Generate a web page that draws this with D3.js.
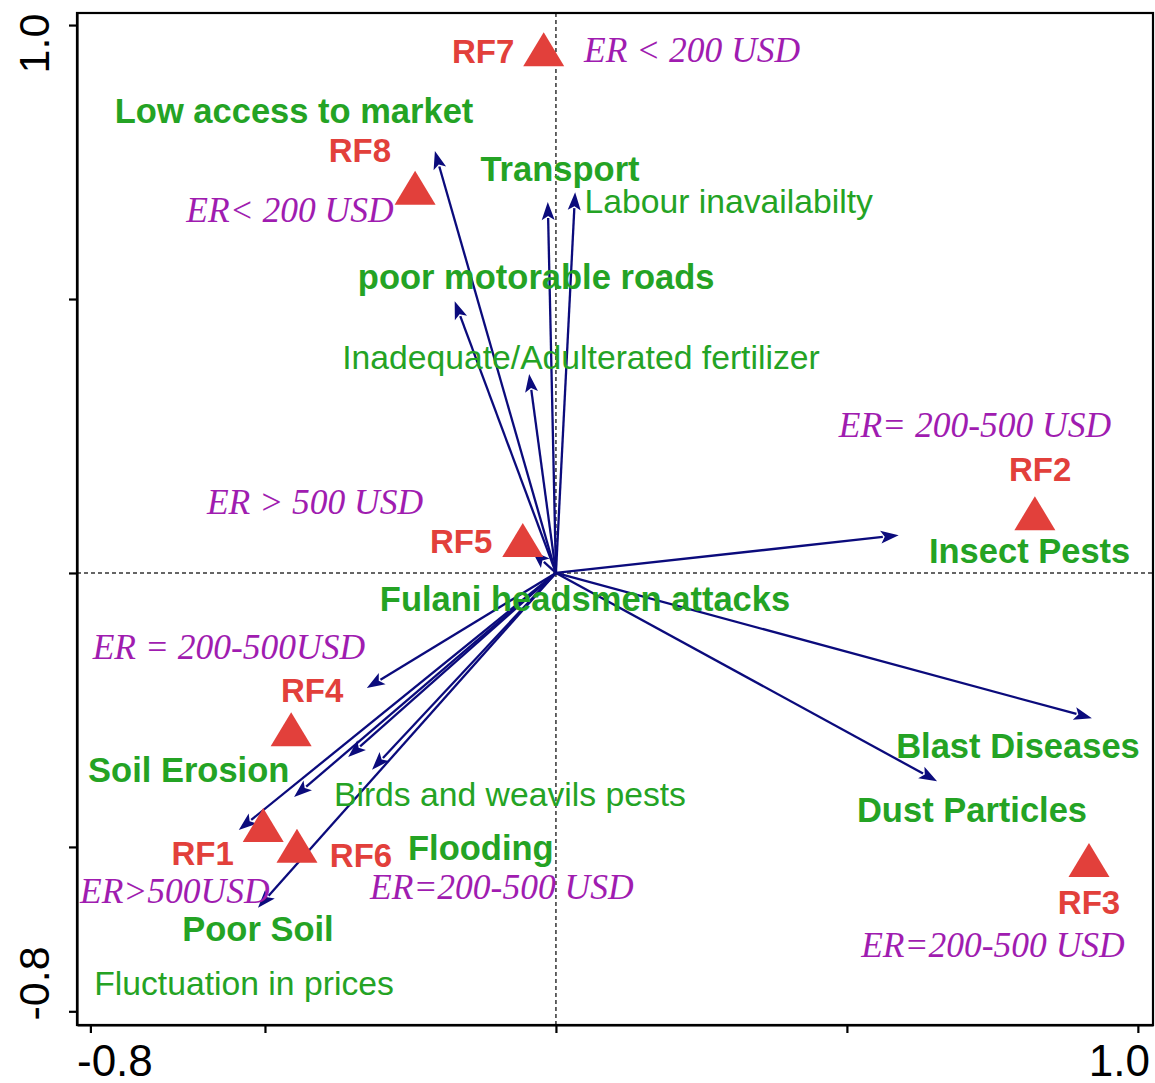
<!DOCTYPE html>
<html>
<head>
<meta charset="utf-8">
<script src="https://cdn.jsdelivr.net/npm/d3@7"></script>
<style>
  body { margin: 0; background: #ffffff; }
  svg { display: block; }
</style>
</head>
<body>
<svg id="chart" width="1155" height="1083"></svg>
<script>
// ---- Ordination scores (axis 1, axis 2) ----

// Sites (rice farms), drawn as triangles
const siteNames = ["RF1", "RF2", "RF3", "RF4", "RF5", "RF6", "RF7", "RF8"];
const siteX = [-0.503, 0.823, 0.916, -0.455, -0.057, -0.445, -0.021, -0.242];
const siteY = [-0.460, 0.109, -0.524, -0.285, 0.060, -0.498, 0.956, 0.703];

// Site label anchors
const siteLabelX = [-0.607, 0.832, 0.916, -0.419, -0.163, -0.335, -0.125, -0.337];
const siteLabelY = [-0.533, 0.168, -0.622, -0.235, 0.036, -0.536, 0.931, 0.750];

// Income class of each site
const incomeText = ["ER>500USD", "ER= 200-500 USD", "ER=200-500 USD", "ER = 200-500USD",
                    "ER > 500 USD", "ER=200-500 USD", "ER < 200 USD", "ER< 200 USD"];
const incomeX = [-0.655, 0.720, 0.751, -0.562, -0.414, -0.093, 0.234, -0.457];
const incomeY = [-0.602, 0.248, -0.701, -0.157, 0.108, -0.595, 0.932, 0.641];

// Constraint vectors (arrow tips)
const vectorX = [-0.208, -0.014, 0.033, -0.174, -0.046, 0.589, 0.921, 0.655,
                 -0.041, -0.325, -0.357, -0.450, -0.545, -0.316, -0.512];
const vectorY = [0.770, 0.677, 0.695, 0.496, 0.363, 0.069, -0.265, -0.380,
                 0.040, -0.210, -0.336, -0.409, -0.469, -0.359, -0.611];

// Constraint names and their anchors
const factorNames = ["Low access to market", "Transport", "Labour inavailabilty",
                     "poor motorable roads", "Inadequate/Adulterated fertilizer",
                     "Insect Pests", "Fulani headsmen attacks", "Blast Diseases",
                     "Dust Particles", "Soil Erosion", "Birds and weavils pests",
                     "Flooding", "Poor Soil", "Fluctuation in prices"];
const factorBold = [true, true, false, true, false, true, true, true, true, true, false, true, true, false];
const factorLabelX = [-0.450, 0.007, 0.297, -0.034, 0.043, 0.814, 0.050, 0.794,
                      0.715, -0.631, -0.079, -0.129, -0.512, -0.536];
const factorLabelY = [0.821, 0.715, 0.657, 0.518, 0.372, 0.018, -0.069, -0.338,
                      -0.454, -0.381, -0.425, -0.524, -0.672, -0.770];

// Axis ticks
const xTicks = [-0.8, -0.5, 0, 0.5, 1.0];
const yTicks = [-0.8, -0.5, 0, 0.5, 1.0];
const xEndLabels = ["-0.8", "1.0"];
const yEndLabels = ["-0.8", "1.0"];

// ---- Drawing ----
const svg = d3.select("#chart");
const plotL = 77, plotR = 1153, plotT = 13, plotB = 1025;

const x = d3.scaleLinear().domain([-0.823, 1.026]).range([plotL, plotR]);
const y = d3.scaleLinear().domain([-0.825, 1.022]).range([plotB, plotT]);

const SANS = "'Liberation Sans', Arial, sans-serif";
const SERIF = "'Liberation Serif', 'Times New Roman', serif";
const GREEN = "#24a324";
const RED = "#e2403b";
const PURPLE = "#a01cb0";
const NAVY = "#0b0b7c";

// Zero lines
svg.append("line")
  .attr("x1", x(0)).attr("x2", x(0)).attr("y1", plotT).attr("y2", plotB)
  .attr("stroke", "#333").attr("stroke-width", 1.5).attr("stroke-dasharray", "4,3");
svg.append("line")
  .attr("x1", plotL).attr("x2", plotR).attr("y1", y(0)).attr("y2", y(0))
  .attr("stroke", "#333").attr("stroke-width", 1.5).attr("stroke-dasharray", "4,3");

// Axes (ticks only, outward)
const gx = svg.append("g").attr("transform", `translate(0,${plotB})`)
  .call(d3.axisBottom(x).tickValues(xTicks).tickSize(8).tickSizeOuter(0).tickFormat(""));
const gy = svg.append("g").attr("transform", `translate(${plotL},0)`)
  .call(d3.axisLeft(y).tickValues(yTicks).tickSize(8).tickSizeOuter(0).tickFormat(""));
[gx, gy].forEach(g => {
  g.selectAll("line").attr("stroke", "#000").attr("stroke-width", 2.2);
  g.select(".domain").attr("stroke", "#000").attr("stroke-width", 2.2);
});

// Frame
svg.append("rect")
  .attr("x", plotL).attr("y", plotT).attr("width", plotR - plotL).attr("height", plotB - plotT)
  .attr("fill", "none").attr("stroke", "#000").attr("stroke-width", 2.2);

// Axis end labels
svg.append("text").attr("x", plotL).attr("y", 1076)
  .attr("font-family", SANS).attr("font-size", 44).attr("fill", "#000")
  .text(xEndLabels[0]);
svg.append("text").attr("x", 1150).attr("y", 1076).attr("text-anchor", "end")
  .attr("font-family", SANS).attr("font-size", 44).attr("fill", "#000")
  .text(xEndLabels[1]);
[[yEndLabels[1], 43.5], [yEndLabels[0], 983.5]].forEach(([t, cy]) => {
  svg.append("text")
    .attr("transform", `translate(49,${cy}) rotate(-90)`)
    .attr("text-anchor", "middle")
    .attr("font-family", SANS).attr("font-size", 43).attr("fill", "#000")
    .text(t);
});

// Arrows from the origin
const ox = x(0), oy = y(0);
const headLen = 18, headHalf = 6.5;
const arrows = svg.append("g");
vectorX.forEach((vx, i) => {
  const tx = x(vx), ty = y(vectorY[i]);
  const dx = tx - ox, dy = ty - oy;
  const len = Math.hypot(dx, dy);
  const ux = dx / len, uy = dy / len;
  const bx = tx - ux * headLen, by = ty - uy * headLen;
  arrows.append("line")
    .attr("x1", ox).attr("y1", oy).attr("x2", bx + ux * 2).attr("y2", by + uy * 2)
    .attr("stroke", NAVY).attr("stroke-width", 2.3);
  const p = [
    [tx, ty],
    [bx - uy * headHalf, by + ux * headHalf],
    [bx + ux * 4, by + uy * 4],
    [bx + uy * headHalf, by - ux * headHalf]
  ];
  arrows.append("path")
    .attr("d", "M" + p.map(q => q.join(",")).join("L") + "Z")
    .attr("fill", NAVY);
});

// Site triangles
const triW = 41, triH = 34;
svg.append("g").selectAll("path").data(siteNames).join("path")
  .attr("d", (d, i) => {
    const cx = x(siteX[i]), cy = y(siteY[i]);
    return `M${cx},${cy - triH / 2}L${cx + triW / 2},${cy + triH / 2}L${cx - triW / 2},${cy + triH / 2}Z`;
  })
  .attr("fill", RED);

// Site labels
svg.append("g").selectAll("text").data(siteNames).join("text")
  .attr("x", (d, i) => x(siteLabelX[i]))
  .attr("y", (d, i) => y(siteLabelY[i]))
  .attr("text-anchor", "middle")
  .attr("font-family", SANS).attr("font-weight", "bold").attr("font-size", 33)
  .attr("fill", RED)
  .text(d => d);

// Income labels
svg.append("g").selectAll("text").data(incomeText).join("text")
  .attr("x", (d, i) => x(incomeX[i]))
  .attr("y", (d, i) => y(incomeY[i]))
  .attr("text-anchor", "middle")
  .attr("font-family", SERIF).attr("font-style", "italic").attr("font-size", 35.5)
  .attr("fill", PURPLE)
  .text(d => d);

// Factor labels
svg.append("g").selectAll("text").data(factorNames).join("text")
  .attr("x", (d, i) => x(factorLabelX[i]))
  .attr("y", (d, i) => y(factorLabelY[i]))
  .attr("text-anchor", "middle")
  .attr("font-family", SANS)
  .attr("font-weight", (d, i) => factorBold[i] ? "bold" : "normal")
  .attr("font-size", (d, i) => factorBold[i] ? 34.5 : 33.7)
  .attr("fill", GREEN)
  .text(d => d);
</script>
</body>
</html>
